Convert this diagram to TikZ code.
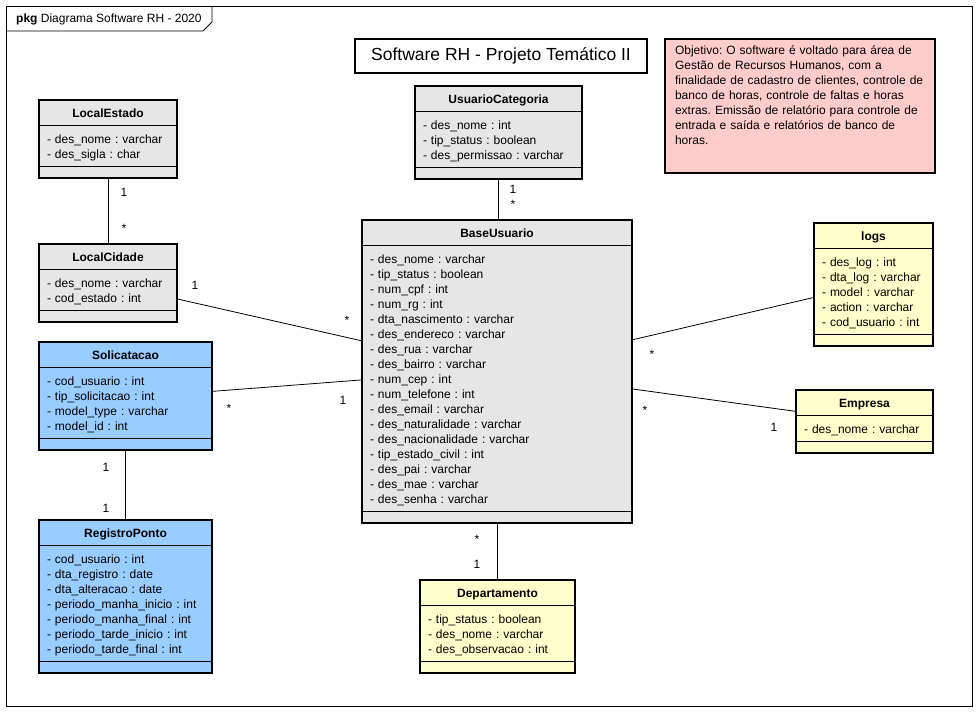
\documentclass[tikz,border=0pt]{standalone}
\usepackage{fontspec}
\setmainfont{Liberation Sans}
\usetikzlibrary{shapes.multipart}
\definecolor{Grey}{RGB}{230,230,230}
\definecolor{Sky}{RGB}{153,204,255}
\definecolor{Cream}{RGB}{255,255,204}
\definecolor{Rose}{RGB}{255,204,204}
\setlength{\parindent}{0pt}
\frenchspacing
\newcommand\clshead[1]{\hbox to\hsize{\hss\bfseries\rule[-7pt]{0pt}{24pt}#1\hss}}
\newcommand\clsattr[1]{\rule{0pt}{17pt}#1\rule[-7pt]{0pt}{7pt}}
\newcommand\clsfoot{\rule{0pt}{10pt}}

\begin{document}
\begin{tikzpicture}[x=1pt,y=-1pt,
 cls/.style={rectangle split,rectangle split parts=3,rectangle split draw splits=false,draw,line width=1.6pt,
  inner xsep=8pt,inner ysep=0pt,outer sep=0pt,anchor=north west,align=left,font=\fontsize{12}{15}\selectfont},
 sp/.style={line width=.8pt},
 asc/.style={line width=.8pt},
 m/.style={font=\fontsize{12}{15}\selectfont,inner sep=0pt,text height=8pt,text depth=0pt}]
\useasboundingbox (0,0) rectangle (977,714);
% package frame
\draw[line width=.8pt] (6,6) rectangle (972,706);
\draw[line width=.8pt] (6,31) -- (203,31) -- (212,22) -- (212,6);
\node[anchor=west,inner sep=0pt,font=\fontsize{12}{15}\selectfont] (tab) at (16,19) {\textbf{pkg} Diagrama Software RH - 2020};
\node[draw,line width=1.6pt,minimum width=292pt,minimum height=34pt,inner sep=0pt,font=\fontsize{17.5}{20}\selectfont] (title) at (501,56) {Software RH - Projeto Temático II};
\node[draw,line width=1.6pt,fill=Rose,anchor=north west,text width=250pt,inner xsep=10pt,inner ysep=0pt,outer sep=0pt,align=left,font=\fontsize{12}{15}\selectfont] (obj) at (665,39)
 {\rule{0pt}{16pt}Objetivo: O software é voltado para área de\\Gestão de Recursos Humanos, com a\\finalidade de cadastro de clientes, controle de\\banco de horas, controle de faltas e horas\\extras. Emissão de relatório para controle de\\entrada e saída e relatórios de banco de\\horas.\rule[-28pt]{0pt}{28pt}};
% classes
\node[cls,fill=Grey,text width=122pt] (est) at (39,100) {\clshead{LocalEstado}\nodepart{two}\clsattr{- des\_nome : varchar\\- des\_sigla : char}\nodepart{three}\clsfoot};
\node[cls,fill=Grey,text width=122pt] (cid) at (39,244) {\clshead{LocalCidade}\nodepart{two}\clsattr{- des\_nome : varchar\\- cod\_estado : int}\nodepart{three}\clsfoot};
\node[cls,fill=Grey,text width=151pt] (cat) at (415,86) {\clshead{UsuarioCategoria}\nodepart{two}\clsattr{- des\_nome : int\\- tip\_status : boolean\\- des\_permissao : varchar}\nodepart{three}\clsfoot};
\node[cls,fill=Grey,text width=254pt] (base) at (362,220) {\clshead{BaseUsuario}\nodepart{two}\clsattr{- des\_nome : varchar\\- tip\_status : boolean\\- num\_cpf : int\\- num\_rg : int\\- dta\_nascimento : varchar\\- des\_endereco : varchar\\- des\_rua : varchar\\- des\_bairro : varchar\\- num\_cep : int\\- num\_telefone : int\\- des\_email : varchar\\- des\_naturalidade : varchar\\- des\_nacionalidade : varchar\\- tip\_estado\_civil : int\\- des\_pai : varchar\\- des\_mae : varchar\\- des\_senha : varchar}\nodepart{three}\clsfoot};
\node[cls,fill=Cream,text width=103pt] (logs) at (814,223) {\clshead{logs}\nodepart{two}\clsattr{- des\_log : int\\- dta\_log : varchar\\- model : varchar\\- action : varchar\\- cod\_usuario : int}\nodepart{three}\clsfoot};
\node[cls,fill=Cream,text width=121pt] (emp) at (796,390) {\clshead{Empresa}\nodepart{two}\clsattr{- des\_nome : varchar}\nodepart{three}\clsfoot};
\node[cls,fill=Sky,text width=157pt] (sol) at (39,342) {\clshead{Solicatacao}\nodepart{two}\clsattr{- cod\_usuario : int\\- tip\_solicitacao : int\\- model\_type : varchar\\- model\_id : int}\nodepart{three}\clsfoot};
\node[cls,fill=Sky,text width=157pt] (reg) at (39,520) {\clshead{RegistroPonto}\nodepart{two}\clsattr{- cod\_usuario : int\\- dta\_registro : date\\- dta\_alteracao : date\\- periodo\_manha\_inicio : int\\- periodo\_manha\_final : int\\- periodo\_tarde\_inicio : int\\- periodo\_tarde\_final : int}\nodepart{three}\clsfoot};
\node[cls,fill=Cream,text width=139pt] (dep) at (420,580) {\clshead{Departamento}\nodepart{two}\clsattr{- tip\_status : boolean\\- des\_nome : varchar\\- des\_observacao : int}\nodepart{three}\clsfoot};
\foreach \n in {est,cid,cat,base,logs,emp,sol,reg,dep}
 \draw[sp] (\n.text split west) -- (\n.text split east) (\n.two split west) -- (\n.two split east);
% associations
\draw[asc] (est) -- (cid);
\draw[asc] (cat.south) -- (cat.south |- base.north);
\draw[asc] (sol) -- (reg);
\draw[asc] (dep.north) -- (dep.north |- base.south);
\draw[asc] ([yshift=-16pt]cid.east) -- ([yshift=30.5pt]base.west);
\draw[asc] ([yshift=4.5pt]sol.east) -- ([yshift=-8.5pt]base.west);
\draw[asc] ([yshift=31.5pt]base.east) -- ([yshift=-13pt]logs.west);
\draw[asc] ([yshift=-17.5pt]base.east) -- ([yshift=10pt]emp.west);
% multiplicities
\foreach \t/\x/\y [count=\i] in {1/124/193,*/124/229,1/513/190,*/513/205,1/195/285,*/347/320,*/229/408,1/343/400,
 */652/354,*/645/410,1/774/427,1/106/467,1/106/508,*/477/539,1/477/564}
 \node[m] (m\i) at (\x,\y) {\t};
\end{tikzpicture}
\end{document}
